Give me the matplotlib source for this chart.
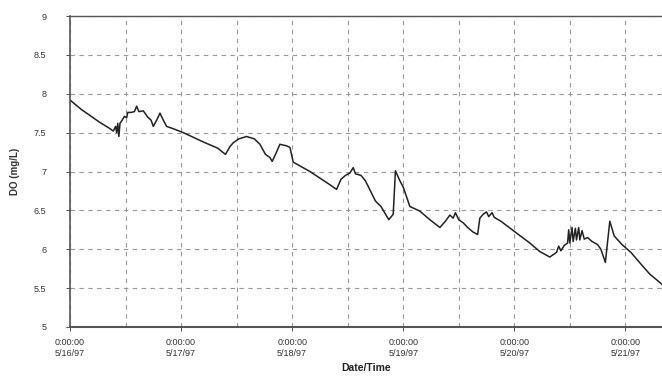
import matplotlib
matplotlib.use("Agg")
import matplotlib.pyplot as plt
from matplotlib.ticker import MultipleLocator

plt.rcParams['font.family'] = ['Liberation Sans', 'DejaVu Sans']

# elapsed days since 0:00:00 5/16/97
days = [0.00, 0.10, 0.20, 0.27, 0.35, 0.39, 0.41, 0.42, 0.43, 0.44, 0.45, 0.47,
        0.49, 0.51, 0.52, 0.55, 0.58, 0.60, 0.62, 0.66, 0.70, 0.73, 0.75, 0.78,
        0.81, 0.84, 0.87, 0.93, 1.02, 1.20, 1.33, 1.40, 1.44, 1.47, 1.52, 1.59,
        1.66, 1.71, 1.76, 1.80, 1.82, 1.85, 1.89, 1.95, 1.98, 2.01, 2.16, 2.34,
        2.40, 2.44, 2.48, 2.52, 2.55, 2.57, 2.62, 2.66, 2.75, 2.80, 2.87, 2.91,
        2.93, 2.97, 3.00, 3.06, 3.15, 3.24, 3.33, 3.38, 3.42, 3.45, 3.47, 3.50,
        3.54, 3.58, 3.63, 3.67, 3.69, 3.72, 3.75, 3.77, 3.80, 3.82, 3.88, 4.00,
        4.14, 4.23, 4.32, 4.38, 4.40, 4.42, 4.45, 4.48, 4.49, 4.50, 4.52, 4.53,
        4.55, 4.56, 4.58, 4.59, 4.61, 4.63, 4.66, 4.70, 4.75, 4.78, 4.82, 4.86,
        4.90, 4.97, 5.05, 5.14, 5.22, 5.33]
do_mgl = [7.92, 7.80, 7.70, 7.63, 7.56, 7.52, 7.58, 7.50, 7.62, 7.45, 7.62, 7.66,
          7.71, 7.69, 7.76, 7.76, 7.77, 7.84, 7.77, 7.78, 7.70, 7.66, 7.58, 7.66,
          7.75, 7.66, 7.58, 7.55, 7.50, 7.38, 7.30, 7.22, 7.32, 7.37, 7.42, 7.45,
          7.42, 7.35, 7.22, 7.18, 7.13, 7.22, 7.35, 7.33, 7.31, 7.12, 7.00, 6.83,
          6.77, 6.90, 6.95, 6.98, 7.05, 6.97, 6.95, 6.88, 6.62, 6.55, 6.38, 6.45,
          7.01, 6.88, 6.80, 6.55, 6.49, 6.38, 6.28, 6.36, 6.44, 6.40, 6.47, 6.38,
          6.34, 6.28, 6.22, 6.19, 6.40, 6.45, 6.48, 6.42, 6.47, 6.41, 6.36, 6.23,
          6.08, 5.97, 5.90, 5.96, 6.04, 5.98, 6.05, 6.08, 6.25, 6.08, 6.28, 6.10,
          6.27, 6.12, 6.28, 6.12, 6.24, 6.13, 6.15, 6.10, 6.06, 6.00, 5.83, 6.36,
          6.17, 6.06, 5.96, 5.81, 5.68, 5.55]

tick_days = [0, 1, 2, 3, 4, 5]
tick_labels = ["0:00:00\n5/16/97", "0:00:00\n5/17/97", "0:00:00\n5/18/97",
               "0:00:00\n5/19/97", "0:00:00\n5/20/97", "0:00:00\n5/21/97"]

fig = plt.figure(figsize=(6.62, 3.89), dpi=100)
ax = fig.add_axes([70/662, 62/389, 592/662, 311/389])

ax.plot(days, do_mgl, color='#222222', lw=1.1)

ax.set_xlim(0, 5.33)
ax.set_ylim(5, 9)
ax.set_yticks([5, 5.5, 6, 6.5, 7, 7.5, 8, 8.5, 9])
ax.set_yticklabels(['5', '5.5', '6', '6.5', '7', '7.5', '8', '8.5', '9'])
ax.set_xticks(tick_days)
ax.set_xticklabels(tick_labels)
ax.xaxis.set_minor_locator(MultipleLocator(0.5))

ax.grid(True, which='both', axis='x', linestyle=(0, (4, 4)), color='#999999', lw=0.8)
ax.grid(True, which='major', axis='y', linestyle=(0, (4, 4)), color='#999999', lw=0.8)
ax.tick_params(axis='both', which='both', labelsize=6.5, length=3, width=0.6,
               colors='#333333', direction='out')
ax.tick_params(axis='x', which='minor', length=0)
ax.tick_params(axis='y', pad=14)
ax.tick_params(axis='x', pad=5)

for s in ['left', 'bottom', 'top']:
    ax.spines[s].set_color('#555555')
ax.spines['left'].set_linewidth(1.2)
ax.spines['bottom'].set_linewidth(1.5)
ax.spines['top'].set_linewidth(1.0)
ax.spines['right'].set_visible(False)

ax.set_ylabel('DO (mg/L)', fontsize=7, fontweight='bold', color='#333333', labelpad=10)
ax.set_xlabel('Date/Time', fontsize=7.5, fontweight='bold', color='#222222', labelpad=4)

fig.savefig('out.png', dpi=100)
